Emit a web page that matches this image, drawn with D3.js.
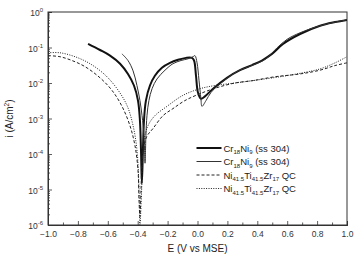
<!DOCTYPE html>
<html>
<head>
<meta charset="utf-8">
<script src="https://cdn.jsdelivr.net/npm/d3@7"></script>
<style>
  body { margin: 0; background: #fff; }
  svg { display: block; font-family: "Liberation Sans", Arial, sans-serif; }
</style>
</head>
<body>
<div id="chart"></div>
<script>
// potentiodynamic polarisation curves, E (V vs MSE) -> i (A/cm2)
var crNiA = [
  [-0.732, 0.126], [-0.652, 0.085], [-0.585, 0.059], [-0.518, 0.035], [-0.465, 0.018],
  [-0.425, 8.5e-3], [-0.398, 3.2e-3], [-0.385, 8.7e-4], [-0.378, 1.3e-4], [-0.372, 1.5e-5],
  [-0.365, 1.3e-4], [-0.358, 8.7e-4], [-0.345, 3.2e-3], [-0.318, 8.5e-3], [-0.285, 0.016],
  [-0.238, 0.027], [-0.184, 0.037], [-0.13, 0.045], [-0.077, 0.051], [-0.037, 0.051],
  [-0.023, 0.043], [-0.01, 0.016], [0.003, 5.4e-3], [0.023, 3.6e-3], [0.05, 4.2e-3],
  [0.104, 6.9e-3], [0.197, 0.014], [0.284, 0.023], [0.365, 0.032], [0.431, 0.043],
  [0.498, 0.066], [0.572, 0.126], [0.686, 0.24], [0.82, 0.41], [0.92, 0.52], [1.0, 0.6]
];
var crNiB = [
  [-0.505, 0.066], [-0.465, 0.043], [-0.431, 0.022], [-0.405, 8.5e-3], [-0.385, 3.2e-3],
  [-0.371, 1.2e-3], [-0.358, 3.3e-4], [-0.351, 5.5e-5], [-0.345, 3.3e-4], [-0.338, 1.2e-3],
  [-0.325, 3.2e-3], [-0.304, 6.9e-3], [-0.271, 0.013], [-0.217, 0.023], [-0.164, 0.035],
  [-0.11, 0.043], [-0.064, 0.048], [-0.03, 0.055], [-0.017, 0.059], [-0.003, 0.037],
  [0.01, 0.012], [0.023, 3.6e-3], [0.03, 2.2e-3], [0.057, 3.2e-3], [0.09, 5.4e-3],
  [0.151, 9.5e-3], [0.264, 0.021], [0.371, 0.032], [0.458, 0.048], [0.532, 0.098],
  [0.599, 0.17], [0.686, 0.26], [0.82, 0.41], [0.92, 0.52], [1.0, 0.6]
];
var niTiZrA = [
  [-1.0, 0.059], [-0.92, 0.055], [-0.84, 0.043], [-0.753, 0.029], [-0.652, 0.014],
  [-0.572, 6.2e-3], [-0.505, 2.2e-3], [-0.452, 6.3e-4], [-0.418, 1.7e-4], [-0.398, 3.5e-5],
  [-0.391, 5e-6], [-0.385, 1.7e-6], [-0.378, 9.5e-6], [-0.371, 6.6e-5], [-0.358, 1.7e-4],
  [-0.338, 3.2e-4], [-0.298, 5.2e-4], [-0.231, 1.2e-3], [-0.164, 1.9e-3], [-0.084, 3.2e-3],
  [0.017, 5e-3], [0.13, 7.4e-3], [0.251, 0.010], [0.371, 0.0117], [0.518, 0.015],
  [0.686, 0.018], [0.82, 0.023], [0.92, 0.031], [1.0, 0.037]
];
var niTiZrB = [
  [-1.0, 0.071], [-0.92, 0.071], [-0.819, 0.055], [-0.719, 0.035], [-0.619, 0.017],
  [-0.538, 6.9e-3], [-0.471, 2.3e-3], [-0.431, 6.3e-4], [-0.405, 1.3e-4], [-0.391, 9.5e-6],
  [-0.385, 1e-6], [-0.371, 1.8e-5], [-0.358, 2.4e-4], [-0.331, 6.3e-4], [-0.285, 1.2e-3],
  [-0.204, 2.2e-3], [-0.097, 4.5e-3], [0.017, 6.9e-3], [0.117, 8.5e-3], [0.251, 0.010],
  [0.371, 0.0117], [0.552, 0.015], [0.706, 0.0195], [0.82, 0.025], [0.92, 0.037], [1.0, 0.055]
];

var xTicks = [-1.0, -0.8, -0.6, -0.4, -0.2, 0.0, 0.2, 0.4, 0.6, 0.8, 1.0];
var yExps = [0, -1, -2, -3, -4, -5, -6];

var series = [
  { base: "Cr", sub1: "18", mid: "Ni", sub2: "9", rest: " (ss 304)", data: crNiA, width: 2, dash: null, color: "#111" },
  { base: "Cr", sub1: "18", mid: "Ni", sub2: "9", rest: " (ss 304)", data: crNiB, width: 1, dash: null, color: "#333" },
  { base: "Ni", sub1: "41.5", mid: "Ti", sub2: "41.5", mid2: "Zr", sub3: "17", rest: " QC", data: niTiZrA, width: 1, dash: "3,2", color: "#222" },
  { base: "Ni", sub1: "41.5", mid: "Ti", sub2: "41.5", mid2: "Zr", sub3: "17", rest: " QC", data: niTiZrB, width: 1, dash: "1,1.4", color: "#222" }
];

var W = 354, H = 259;
var margin = { top: 12, right: 7, bottom: 34, left: 48 };
var w = W - margin.left - margin.right, h = H - margin.top - margin.bottom;

var svg = d3.select("#chart").append("svg").attr("width", W).attr("height", H);
var g = svg.append("g").attr("transform", "translate(" + margin.left + "," + margin.top + ")");

var x = d3.scaleLinear().domain([-1, 1]).range([0, w]);
var y = d3.scaleLog().domain([1e-6, 1]).range([h, 0]);

svg.append("defs").append("clipPath").attr("id", "clip")
  .append("rect").attr("width", w).attr("height", h);

// x axis, ticks pointing inwards
var xAxis = g.append("g").attr("transform", "translate(0," + h + ")")
  .call(d3.axisBottom(x).tickValues(xTicks).tickSize(-4).tickPadding(6).tickFormat(d3.format(".1f")));
g.append("g").attr("transform", "translate(0," + h + ")")
  .call(d3.axisBottom(x).tickValues(d3.range(-0.9, 1, 0.2)).tickSize(-2.5).tickFormat(""));

// y axis, decades + minor log ticks
var minor = [];
yExps.slice(1).forEach(function(e) {
  for (var k = 2; k <= 9; k++) minor.push(k * Math.pow(10, e));
});
g.append("g").call(d3.axisLeft(y).tickValues(minor).tickSize(-2).tickFormat(""));
var yAxis = g.append("g")
  .call(d3.axisLeft(y).tickValues(yExps.map(function(e) { return Math.pow(10, e); }))
    .tickSize(-4).tickPadding(5).tickFormat(""));
yAxis.selectAll(".tick text").each(function(d) {
  var t = d3.select(this);
  t.append("tspan").text("10");
  t.append("tspan").attr("dy", -4).attr("font-size", 6).text(Math.round(Math.log10(d)));
});

g.selectAll(".domain").attr("stroke", "#333");
g.selectAll(".tick line").attr("stroke", "#333").attr("stroke-width", 0.8);
g.selectAll(".tick text").attr("fill", "#333").attr("font-size", 8.5);
yAxis.selectAll(".tick text").attr("dy", "0.45em");

// frame
g.append("rect").attr("width", w).attr("height", h)
  .attr("fill", "none").attr("stroke", "#333").attr("stroke-width", 1);

var line = d3.line()
  .x(function(d) { return x(d[0]); })
  .y(function(d) { return y(d[1]); })
  .curve(d3.curveCatmullRom.alpha(0.5));

g.append("g").attr("clip-path", "url(#clip)")
  .selectAll("path").data(series).enter().append("path")
  .attr("d", function(s) { return line(s.data); })
  .attr("fill", "none")
  .attr("stroke", function(s) { return s.color; })
  .attr("stroke-width", function(s) { return s.width; })
  .attr("stroke-dasharray", function(s) { return s.dash; });

// legend
var lg = g.append("g").attr("transform", "translate(" + (x(0) - 1) + "," + 136 + ")");
series.forEach(function(s, i) {
  var row = lg.append("g").attr("transform", "translate(0," + (i * 13.5) + ")");
  row.append("line").attr("x1", 0).attr("x2", 25).attr("y1", 0).attr("y2", 0)
    .attr("stroke", s.color).attr("stroke-width", s.width).attr("stroke-dasharray", s.dash);
  var t = row.append("text").attr("x", 27).attr("y", 3.5).attr("font-size", 9.5).attr("fill", "#222");
  t.append("tspan").text(s.base);
  t.append("tspan").attr("font-size", 6).attr("dy", 2.5).text(s.sub1);
  t.append("tspan").attr("dy", -2.5).text(s.mid);
  t.append("tspan").attr("font-size", 6).attr("dy", 2.5).text(s.sub2);
  if (s.mid2) {
    t.append("tspan").attr("dy", -2.5).text(s.mid2);
    t.append("tspan").attr("font-size", 6).attr("dy", 2.5).text(s.sub3);
  }
  t.append("tspan").attr("dy", -2.5).text(s.rest);
});

// axis titles
svg.append("text").attr("x", margin.left + x(0)).attr("y", 252)
  .attr("text-anchor", "middle").attr("font-size", 10).attr("fill", "#222")
  .text("E (V vs MSE)");
var yl = svg.append("text").attr("transform", "translate(13," + (margin.top + h / 2) + ") rotate(-90)")
  .attr("text-anchor", "middle").attr("font-size", 10).attr("fill", "#222");
yl.append("tspan").text("i (A/cm");
yl.append("tspan").attr("dy", -4).attr("font-size", 6.5).text("2");
yl.append("tspan").attr("dy", 4).text(")");
</script>
</body>
</html>
